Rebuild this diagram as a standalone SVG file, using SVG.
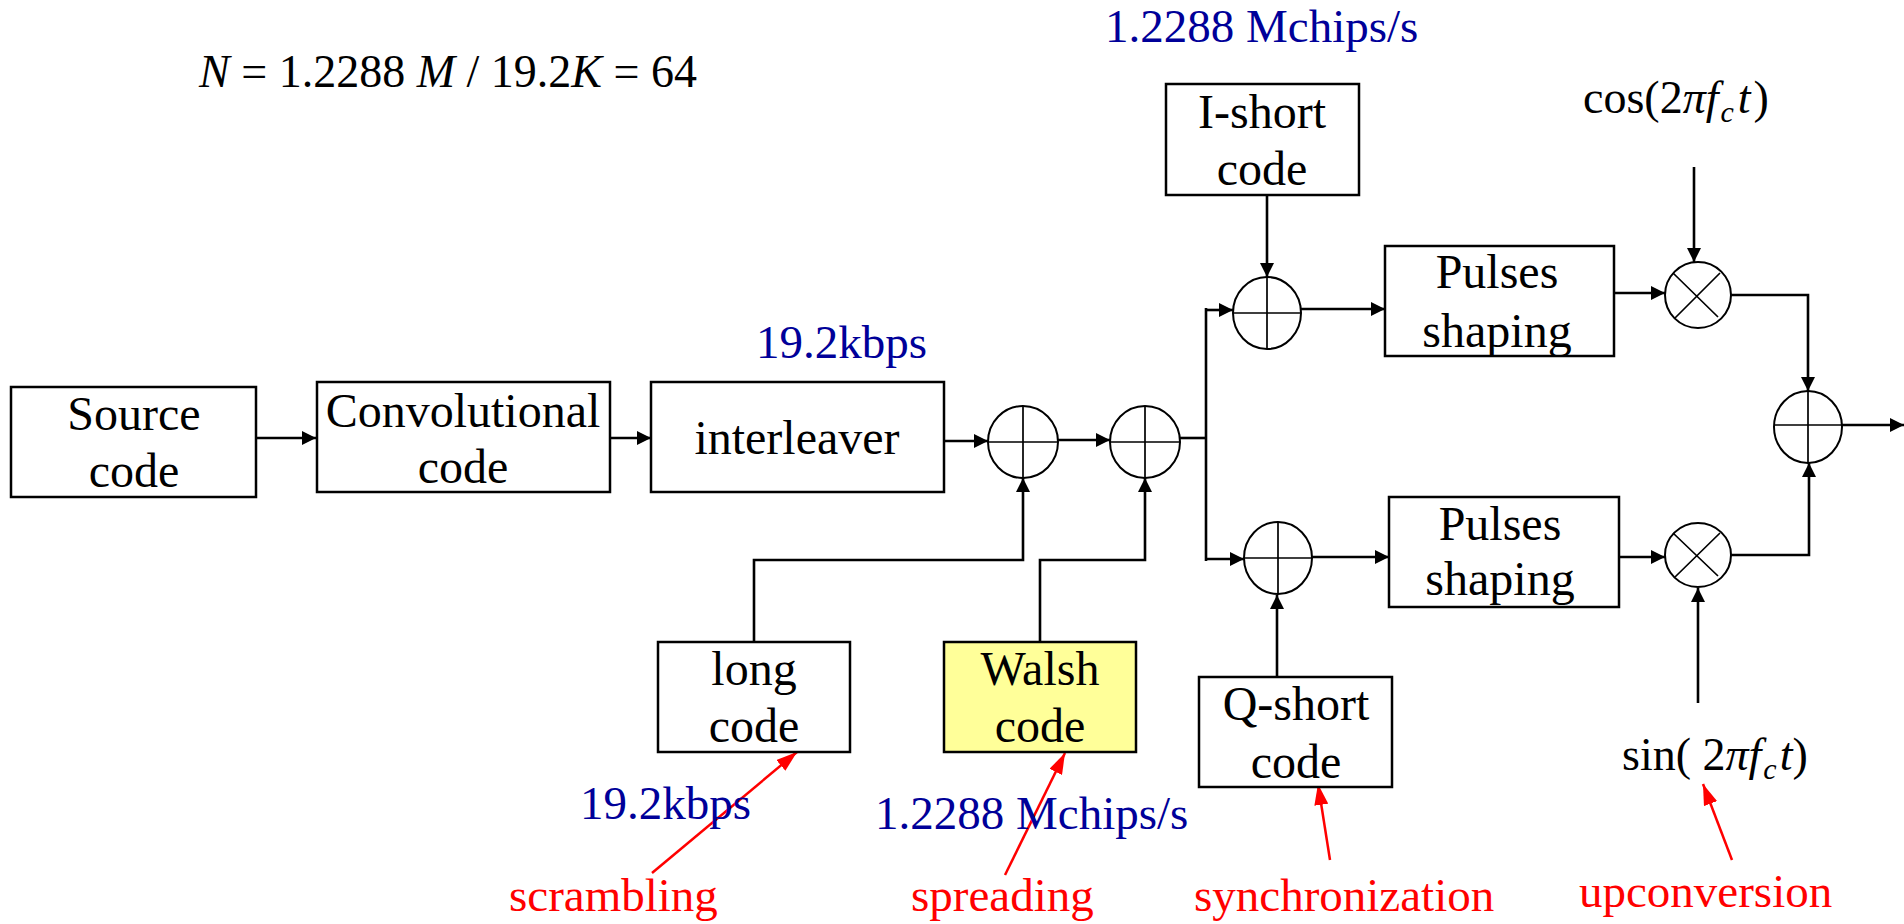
<svg xmlns="http://www.w3.org/2000/svg" width="1904" height="924" viewBox="0 0 1904 924">
  <defs>
    <marker id="arrow" markerUnits="userSpaceOnUse" markerWidth="15" markerHeight="14" refX="14" refY="7" orient="auto">
      <path d="M0,0 L14,7 L0,14 z" fill="#000"/>
    </marker>
    <marker id="arrowRed" markerUnits="userSpaceOnUse" markerWidth="22" markerHeight="14" refX="21" refY="7" orient="auto">
      <path d="M0,0 L21,7 L0,14 z" fill="#ff0000"/>
    </marker>
    <style>
      .box { fill: #fff; stroke: #000; stroke-width: 2.5; }
      .op { fill: #fff; stroke: #000; stroke-width: 2; }
      .cross { stroke: #000; stroke-width: 1.7; fill: none; }
      .label { font-family: "Liberation Serif", "Times New Roman", serif; font-size: 48px; fill: #000; text-anchor: middle; }
      .rate { font-family: "Liberation Serif", "Times New Roman", serif; font-size: 47px; fill: #000099; }
      .note { font-family: "Liberation Serif", "Times New Roman", serif; font-size: 47px; fill: #ff0000; }
      .math { font-family: "Liberation Serif", "Times New Roman", serif; font-size: 46px; fill: #000; }
      .wire { fill: none; stroke: #000; stroke-width: 2.6; }
      .hint { fill: none; stroke: #ff0000; stroke-width: 2.5; }
    </style>
  </defs>
  <rect width="1904" height="924" fill="#fff"/>

  <!-- processing gain -->
  <text class="math" x="199" y="87"><tspan font-style="italic">N</tspan> = 1.2288 <tspan font-style="italic">M</tspan> / 19.2<tspan font-style="italic">K</tspan> = 64</text>

  <!-- connectors -->
  <g id="connectors">
    <path class="wire" d="M256,438 H316" marker-end="url(#arrow)"/>
    <path class="wire" d="M610,438 H651" marker-end="url(#arrow)"/>
    <path class="wire" d="M944,441 H988" marker-end="url(#arrow)"/>
    <path class="wire" d="M1058,440 H1110" marker-end="url(#arrow)"/>
    <path class="wire" d="M1179,438 H1206"/>
    <path class="wire" d="M1206,308 V561"/>
    <path class="wire" d="M1206,310 H1233" marker-end="url(#arrow)"/>
    <path class="wire" d="M1206,559 H1244" marker-end="url(#arrow)"/>
    <path class="wire" d="M754,642 V560 H1023 V478" marker-end="url(#arrow)"/>
    <path class="wire" d="M1040,642 V560 H1145 V478" marker-end="url(#arrow)"/>
    <path class="wire" d="M1267,195 V277" marker-end="url(#arrow)"/>
    <path class="wire" d="M1301,309 H1385" marker-end="url(#arrow)"/>
    <path class="wire" d="M1614,293 H1665" marker-end="url(#arrow)"/>
    <path class="wire" d="M1694,167 V262" marker-end="url(#arrow)"/>
    <path class="wire" d="M1731,295 H1808 V391" marker-end="url(#arrow)"/>
    <path class="wire" d="M1312,557 H1389" marker-end="url(#arrow)"/>
    <path class="wire" d="M1277,677 V595" marker-end="url(#arrow)"/>
    <path class="wire" d="M1619,557 H1665" marker-end="url(#arrow)"/>
    <path class="wire" d="M1698,703 V588" marker-end="url(#arrow)"/>
    <path class="wire" d="M1731,555 H1809 V463" marker-end="url(#arrow)"/>
    <path class="wire" d="M1842,425 H1904" marker-end="url(#arrow)"/>
    <!-- annotation pointers -->
    <path class="hint" d="M652,873 L797,752" marker-end="url(#arrowRed)"/>
    <path class="hint" d="M1005,875 L1065,753" marker-end="url(#arrowRed)"/>
    <path class="hint" d="M1330,860 L1318,784" marker-end="url(#arrowRed)"/>
    <path class="hint" d="M1732,860 L1703,784" marker-end="url(#arrowRed)"/>
  </g>

  <!-- blocks -->
  <g id="source">
    <rect class="box" x="11" y="387" width="245" height="110"/>
    <text class="label" x="134" y="430">Source</text>
    <text class="label" x="134" y="487">code</text>
  </g>
  <g id="convolutional">
    <rect class="box" x="317" y="382" width="293" height="110"/>
    <text class="label" x="463" y="427">Convolutional</text>
    <text class="label" x="463" y="483">code</text>
  </g>
  <g id="interleaver">
    <rect class="box" x="651" y="382" width="293" height="110"/>
    <text class="label" x="797" y="454">interleaver</text>
  </g>
  <g id="xor-long">
    <ellipse class="op" cx="1023" cy="442" rx="35" ry="36"/>
    <path class="cross" d="M988,442 H1058 M1023,406 V478"/>
  </g>
  <g id="xor-walsh">
    <ellipse class="op" cx="1145" cy="442" rx="35" ry="36"/>
    <path class="cross" d="M1110,442 H1180 M1145,406 V478"/>
  </g>
  <g id="long-code">
    <rect class="box" x="658" y="642" width="192" height="110"/>
    <text class="label" x="754" y="685">long</text>
    <text class="label" x="754" y="742">code</text>
  </g>
  <g id="walsh-code">
    <rect class="box" x="944" y="642" width="192" height="110" style="fill:#ffff99"/>
    <text class="label" x="1040" y="685">Walsh</text>
    <text class="label" x="1040" y="742">code</text>
  </g>
  <g id="i-short">
    <rect class="box" x="1166" y="84" width="193" height="111"/>
    <text class="label" x="1262" y="128">I-short</text>
    <text class="label" x="1262" y="185">code</text>
  </g>
  <g id="xor-i">
    <ellipse class="op" cx="1267" cy="313" rx="34" ry="36"/>
    <path class="cross" d="M1233,313 H1301 M1267,277 V349"/>
  </g>
  <g id="pulse-i">
    <rect class="box" x="1385" y="246" width="229" height="110"/>
    <text class="label" x="1497" y="288">Pulses</text>
    <text class="label" x="1497" y="347">shaping</text>
  </g>
  <g id="mix-i">
    <ellipse class="op" cx="1698" cy="295" rx="33" ry="33"/>
    <path class="cross" d="M1673,273 L1718,317 M1720,273 L1675,318"/>
  </g>
  <g id="q-short">
    <rect class="box" x="1199" y="677" width="193" height="110"/>
    <text class="label" x="1296" y="720">Q-short</text>
    <text class="label" x="1296" y="778">code</text>
  </g>
  <g id="xor-q">
    <ellipse class="op" cx="1278" cy="558" rx="34" ry="36"/>
    <path class="cross" d="M1244,558 H1312 M1278,522 V594"/>
  </g>
  <g id="pulse-q">
    <rect class="box" x="1389" y="497" width="230" height="110"/>
    <text class="label" x="1500" y="540">Pulses</text>
    <text class="label" x="1500" y="595">shaping</text>
  </g>
  <g id="mix-q">
    <ellipse class="op" cx="1698" cy="555" rx="33" ry="32"/>
    <path class="cross" d="M1673,533 L1718,576 M1720,533 L1675,577"/>
  </g>
  <g id="sum">
    <ellipse class="op" cx="1808" cy="427" rx="34" ry="36"/>
    <path class="cross" d="M1774,425 H1842 M1808,391 V463"/>
  </g>

  <!-- carriers -->
  <text class="math" x="1583" y="113">cos(2<tspan font-style="italic">πf</tspan><tspan font-style="italic" font-size="30" dy="9" dx="2">c</tspan><tspan font-style="italic" dy="-9" dx="4">t</tspan><tspan dx="3">)</tspan></text>
  <text class="math" x="1622" y="770">sin( 2<tspan font-style="italic">πf</tspan><tspan font-style="italic" font-size="30" dy="9" dx="2">c</tspan><tspan font-style="italic" dy="-9" dx="3">t</tspan>)</text>

  <!-- rates -->
  <text class="rate" x="1105" y="42">1.2288 Mchips/s</text>
  <text class="rate" x="756" y="358">19.2kbps</text>
  <text class="rate" x="580" y="819">19.2kbps</text>
  <text class="rate" x="875" y="829">1.2288 Mchips/s</text>

  <!-- functions -->
  <text class="note" x="509" y="911">scrambling</text>
  <text class="note" x="911" y="911">spreading</text>
  <text class="note" x="1194" y="911">synchronization</text>
  <text class="note" x="1579" y="907">upconversion</text>
</svg>
